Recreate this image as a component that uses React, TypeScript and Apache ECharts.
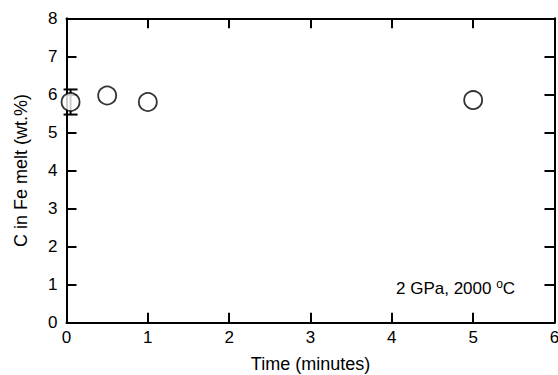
import React, { useEffect, useRef } from "react";
import * as echarts from "echarts";

const timeMinutes = [0.05, 0.5, 1.0, 5.0];
const carbonWt = [5.8, 5.97, 5.8, 5.85];
const carbonErr = [0.33, 0.0, 0.0, 0.0];
const xTicks = [0, 1, 2, 3, 4, 5, 6];
const yTicks = [0, 1, 2, 3, 4, 5, 6, 7, 8];
const annotation = "2 GPa, 2000 ";

export default function App() {
  const ref = useRef<HTMLDivElement>(null);
  useEffect(() => {
    if (!ref.current) return;
    const chart = echarts.init(ref.current, null, { renderer: "svg" });
    const font = "Liberation Sans, Arial, sans-serif";
    const axisCommon = {
      axisLine: { show: true, onZero: false, lineStyle: { color: "#000", width: 2 } },
      axisTick: { show: true, inside: true, length: 10, lineStyle: { color: "#000", width: 2 } },
      splitLine: { show: false },
    };
    const points = timeMinutes.map((t, i) => [t, carbonWt[i]]);
    const errs = timeMinutes
      .map((t, i) => [t, carbonWt[i] - carbonErr[i], carbonWt[i] + carbonErr[i]])
      .filter((_, i) => carbonErr[i] > 0);
    chart.setOption({
      animation: false,
      backgroundColor: "#fff",
      grid: { left: 66.5, right: 3.5, top: 18.3, bottom: 52.3, containLabel: false, outerBoundsMode: "none" },
      xAxis: [
        {
          type: "value",
          min: xTicks[0],
          max: xTicks[xTicks.length - 1],
          interval: 1,
          ...axisCommon,
          axisLabel: { color: "#000", fontSize: 17, fontFamily: font, margin: 6, showMaxLabel: true },
          name: "Time (minutes)",
          nameLocation: "middle",
          nameGap: 32,
          nameTextStyle: { color: "#000", fontSize: 18, fontFamily: font, lineHeight: 19 },
        },
        {
          type: "value",
          position: "top",
          min: xTicks[0],
          max: xTicks[xTicks.length - 1],
          interval: 1,
          ...axisCommon,
          axisLabel: { show: false },
        },
      ],
      yAxis: [
        {
          type: "value",
          min: yTicks[0],
          max: yTicks[yTicks.length - 1],
          interval: 1,
          ...axisCommon,
          axisLabel: { color: "#000", fontSize: 17, fontFamily: font, margin: 9 },
          name: "C in Fe melt (wt.%)",
          nameLocation: "middle",
          nameGap: 37,
          nameTextStyle: { color: "#000", fontSize: 18, fontFamily: font },
        },
        {
          type: "value",
          position: "right",
          min: yTicks[0],
          max: yTicks[yTicks.length - 1],
          interval: 1,
          ...axisCommon,
          axisLabel: { show: false },
        },
      ],
      series: [
        {
          type: "custom",
          data: errs,
          z: 2,
          renderItem: (params: any, api: any) => {
            const x = api.value(0);
            const lo = api.coord([x, api.value(1)]);
            const hi = api.coord([x, api.value(2)]);
            const cap = 7;
            const style = { stroke: "#000", lineWidth: 2 };
            return {
              type: "group",
              children: [
                { type: "line", shape: { x1: lo[0], y1: lo[1], x2: hi[0], y2: hi[1] }, style },
                { type: "line", shape: { x1: lo[0] - cap, y1: lo[1], x2: lo[0] + cap, y2: lo[1] }, style },
                { type: "line", shape: { x1: hi[0] - cap, y1: hi[1], x2: hi[0] + cap, y2: hi[1] }, style },
              ],
            };
          },
        },
        {
          type: "scatter",
          data: points,
          symbol: "circle",
          symbolSize: 18,
          z: 3,
          itemStyle: { color: "#fff", borderColor: "#000", borderWidth: 1.8 },
        },
      ],
      graphic: [
        {
          type: "text",
          left: 396,
          top: 278,
          style: {
            text: annotation + "{sup|o}C",
            font: `17px ${font}`,
            fill: "#000",
            rich: {
              sup: { fontSize: 12, fontFamily: font, fill: "#000", verticalAlign: "top", padding: [0, 0, 8, 0] },
            },
          },
        },
      ],
    });
    return () => chart.dispose();
  }, []);
  return <div ref={ref} style={{ width: 558, height: 375, position: "absolute", left: 0, top: 0 }} />;
}
